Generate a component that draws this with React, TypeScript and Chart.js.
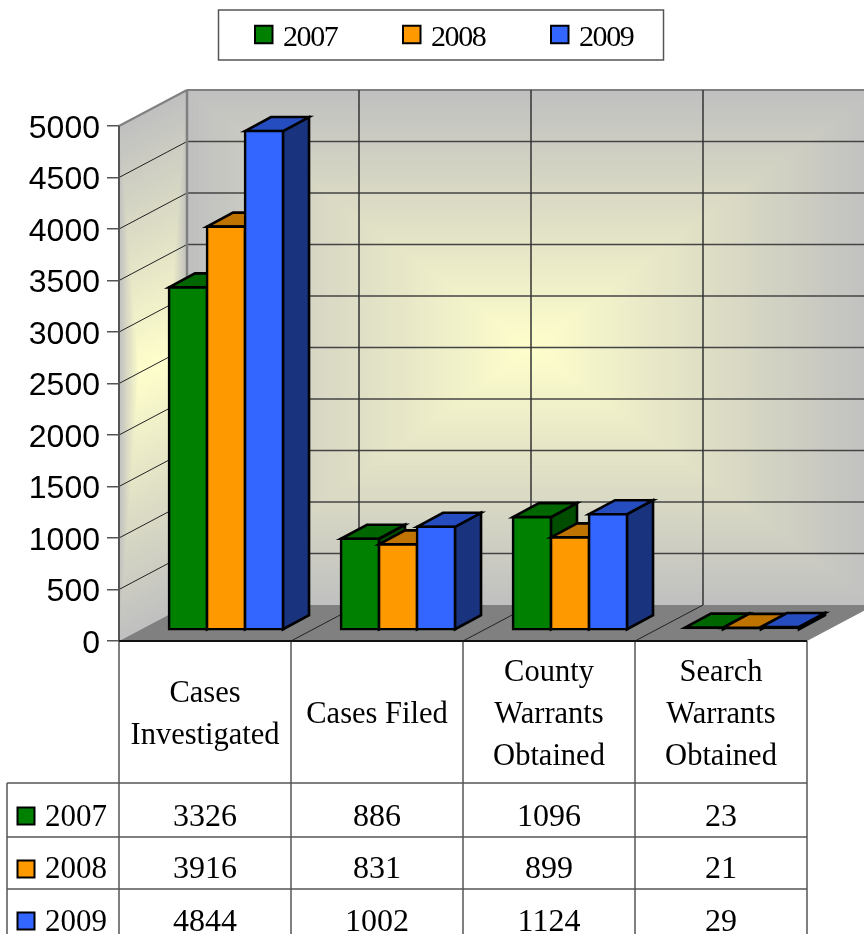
import React, { useEffect, useRef } from "react";
import { Chart, registerables } from "chart.js";

Chart.register(...registerables);

const categories = [["Cases", "Investigated"], ["Cases Filed"], ["County", "Warrants", "Obtained"], ["Search", "Warrants", "Obtained"]];
const years = ["2007", "2008", "2009"];
const values2007 = [3326, 886, 1096, 23];
const values2008 = [3916, 831, 899, 21];
const values2009 = [4844, 1002, 1124, 29];
const yTicks = { max: 5000, step: 500 };
const frontColors = ["#008000", "#ff9900", "#3366ff"];
const topColors = ["#006600", "#bf7300", "#264dbf"];
const sideColors = ["#004d00", "#804c00", "#19337f"];
const seriesValues = [values2007, values2008, values2009];

const SERIF = "'Liberation Serif', serif";
const SANS = "'Liberation Sans', sans-serif";
const WALL_DX = 68, WALL_DY = 36;
const BAR_DX = 21, BAR_DY = 11, DEPTH_X = 26, DEPTH_Y = 14;
const BAR_STROKE = 2.6;

function mix(a: number[], b: number[], t: number) {
  return `rgb(${a.map((v, i) => Math.round(v + (b[i] - v) * t)).join(",")})`;
}

function paintWall(ctx: any, ox: number, oy: number, ux: number, uy: number, vx: number, vy: number, insetX: number) {
  const edge = [192, 192, 192], center = [255, 255, 204];
  ctx.save();
  ctx.transform(ux, uy, vx, vy, ox, oy);
  const n = 63;
  for (let k = 0; k <= n; k++) {
    const t = k / n;
    ctx.fillStyle = mix(edge, center, t);
    const ix = t * insetX;
    const iy = t / 2;
    ctx.fillRect(ix, iy, 1 - 2 * ix, 1 - 2 * iy);
  }
  ctx.restore();
}

function line(ctx: any, x1: number, y1: number, x2: number, y2: number) {
  ctx.beginPath();
  ctx.moveTo(x1, y1);
  ctx.lineTo(x2, y2);
  ctx.stroke();
}

function poly(ctx: any, pts: number[][], fill: string) {
  ctx.beginPath();
  pts.forEach((p, i) => (i ? ctx.lineTo(p[0], p[1]) : ctx.moveTo(p[0], p[1])));
  ctx.closePath();
  ctx.fillStyle = fill;
  ctx.fill();
  ctx.stroke();
}

function swatch(ctx: any, x: number, y: number, size: number, color: string) {
  ctx.fillStyle = color;
  ctx.strokeStyle = "#000";
  ctx.lineWidth = 2;
  ctx.fillRect(x, y, size, size);
  ctx.strokeRect(x, y, size, size);
}

const scenePlugin = {
  id: "scene3d",
  beforeDraw(chart: any) {
    const { ctx, chartArea: a, scales } = chart;
    const h = a.bottom - a.top, w = a.right - a.left;
    const yS = scales.y, xS = scales.x;
    yS.getLabelItems(a).forEach((item: any) => { item.textOffset = 3; });
    ctx.save();
    ctx.fillStyle = "#fff";
    ctx.fillRect(0, 0, chart.width, chart.height);
    paintWall(ctx, a.left + WALL_DX, a.top - WALL_DY, w, 0, 0, h, 0.5);
    paintWall(ctx, a.left, a.top, WALL_DX, -WALL_DY, 0, h, 0.3);
    // floor
    ctx.fillStyle = "#808080";
    ctx.beginPath();
    ctx.moveTo(a.left, a.bottom);
    ctx.lineTo(a.left + WALL_DX, a.bottom - WALL_DY);
    ctx.lineTo(a.right + WALL_DX, a.bottom - WALL_DY);
    ctx.lineTo(a.right, a.bottom);
    ctx.closePath();
    ctx.fill();
    // horizontal grid on walls
    yS.ticks.forEach((t: any, i: number) => {
      const y = yS.getPixelForTick(i);
      if (t.value === 0) return;
      const top = t.value === yTicks.max;
      ctx.strokeStyle = top ? "#808080" : "#222";
      ctx.lineWidth = top ? 2 : 1;
      line(ctx, a.left, y, a.left + WALL_DX, y - WALL_DY);
      ctx.strokeStyle = top ? "#808080" : "#444";
      ctx.lineWidth = top ? 2 : 1.5;
      line(ctx, a.left + WALL_DX, y - WALL_DY, a.right + WALL_DX, y - WALL_DY);
    });
    // vertical grid on back wall and floor dividers
    categories.forEach((_, i) => {
      const x = i === 0 ? a.left : xS.getPixelForValue(i) - (xS.getPixelForValue(1) - xS.getPixelForValue(0)) / 2;
      ctx.strokeStyle = i === 0 ? "#808080" : "#333";
      ctx.lineWidth = i === 0 ? 2.5 : 1.5;
      line(ctx, x + WALL_DX, a.top - WALL_DY, x + WALL_DX, a.bottom - WALL_DY);
      if (i > 0) {
        ctx.strokeStyle = "#222";
        ctx.lineWidth = 1;
        line(ctx, x, a.bottom, x + WALL_DX, a.bottom - WALL_DY);
      }
    });
    ctx.strokeStyle = "#555";
    ctx.lineWidth = 2;
    line(ctx, a.left, a.top, a.left, a.bottom);
    ctx.restore();
  },
  // Bars are painted back-to-front in series order below, so each one can overlap the previous one's faces.
  beforeDatasetDraw() {
    return false;
  },
  afterDatasetsDraw(chart: any) {
    const { ctx } = chart;
    const metas = chart.getSortedVisibleDatasetMetas();
    metas.forEach((meta: any) => {
      ctx.save();
      ctx.translate(BAR_DX, -BAR_DY);
      ctx.strokeStyle = "#000";
      ctx.lineWidth = BAR_STROKE;
      ctx.lineJoin = "miter";
      meta.data.forEach((el: any) => {
        const { x, y, base, width } = el.getProps(["x", "y", "base", "width"], true);
        const l = x - width / 2, r = x + width / 2;
        poly(ctx, [[r, y], [r + DEPTH_X, y - DEPTH_Y], [r + DEPTH_X, base - DEPTH_Y], [r, base]], sideColors[meta.index]);
        poly(ctx, [[l, y], [l + DEPTH_X, y - DEPTH_Y], [r + DEPTH_X, y - DEPTH_Y], [r, y]], topColors[meta.index]);
      });
      meta.controller.draw();
      ctx.restore();
    });
  },
  afterDraw(chart: any) {
    const { ctx, chartArea: a, scales } = chart;
    const xS = scales.x;
    const cw = xS.getPixelForValue(1) - xS.getPixelForValue(0);
    ctx.save();
    // table
    const rowLines = [783, 837, 889];
    const rowText = [818, 870, 923];
    const swatchTop = [807.5, 860.5, 912.5];
    ctx.strokeStyle = "#555";
    ctx.lineWidth = 1.5;
    categories.forEach((_, i) => {
      const x = a.left + i * cw;
      line(ctx, x, a.bottom, x, chart.height);
    });
    line(ctx, a.right, a.bottom, a.right, chart.height);
    rowLines.forEach((y) => line(ctx, 7, y, a.right, y));
    line(ctx, 7, rowLines[0], 7, chart.height);
    // base line
    ctx.strokeStyle = "#111";
    ctx.lineWidth = 2;
    line(ctx, a.left, a.bottom, a.right, a.bottom);
    ctx.textBaseline = "middle";
    years.forEach((yr, r) => {
      swatch(ctx, 17.5, swatchTop[r], 17, frontColors[r]);
      ctx.fillStyle = "#000";
      ctx.textAlign = "left";
      ctx.font = `31px ${SERIF}`;
      ctx.fillText(yr, 45, rowText[r]);
      ctx.textAlign = "center";
      ctx.font = `32px ${SERIF}`;
      seriesValues[r].forEach((v, c) => {
        ctx.fillText(String(v), xS.getPixelForValue(c), rowText[r]);
      });
    });
    // legend
    ctx.strokeStyle = "#555";
    ctx.lineWidth = 1.5;
    ctx.strokeRect(218.5, 10, 445, 50);
    ctx.font = `30px ${SERIF}`;
    (ctx as any).letterSpacing = "-1.4px";
    years.forEach((yr, r) => {
      const x = 255 + r * 148;
      swatch(ctx, x, 25.75, 17.5, frontColors[r]);
      ctx.fillStyle = "#000";
      ctx.textAlign = "left";
      ctx.fillText(yr, x + 28, 38);
    });
    (ctx as any).letterSpacing = "0px";
    ctx.restore();
  },
};

export default function App() {
  const ref = useRef<HTMLCanvasElement>(null);
  useEffect(() => {
    const chart = new Chart(ref.current as any, {
      type: "bar",
      data: {
        labels: categories,
        datasets: years.map((yr, i) => ({
          label: yr,
          data: seriesValues[i],
          backgroundColor: frontColors[i],
          borderColor: "#000",
          borderWidth: BAR_STROKE,
          borderSkipped: false,
          inflateAmount: (c: any) => (c.raw < 100 ? 0 : BAR_STROKE / 2),
          categoryPercentage: 0.663,
          barPercentage: 1,
        })),
      } as any,
      options: {
        responsive: false,
        animation: false,
        layout: { padding: { top: 126, right: 57, left: 0, bottom: 0 } },
        plugins: { legend: { display: false }, tooltip: { enabled: false } },
        scales: {
          x: {
            afterFit: (s: any) => { s.height = 293; },
            grid: { display: false },
            border: { display: false },
            ticks: {
              maxRotation: 0,
              autoSkip: false,
              crossAlign: "center",
              padding: 24,
              color: "#000",
              font: { family: SERIF, size: 30.5, lineHeight: 1.37 },
            },
          },
          y: {
            min: 0,
            max: yTicks.max,
            afterFit: (s: any) => { s.width = 119; },
            border: { display: false },
            grid: { drawOnChartArea: false, drawTicks: true, tickLength: 12, color: "#555", lineWidth: 1.5 },
            ticks: {
              stepSize: yTicks.step,
              callback: (v: any) => String(v),
              padding: 7,
              color: "#000",
              font: { family: SANS, size: 32 },
            },
          },
        },
      } as any,
      plugins: [scenePlugin],
    });
    return () => chart.destroy();
  }, []);
  return (
    <div style={{ position: "absolute", left: 0, top: 0 }}>
      <canvas ref={ref} width={864} height={934} style={{ display: "block" }} />
    </div>
  );
}
